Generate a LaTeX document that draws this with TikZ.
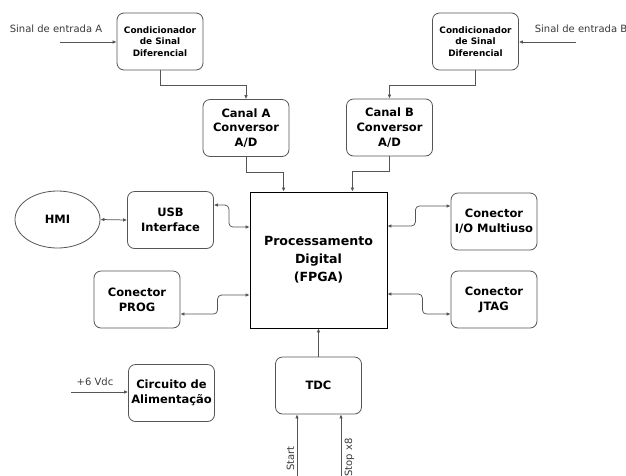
\documentclass[tikz,border=0pt]{standalone}
\usepackage{fontspec}
\setmainfont{DejaVu Sans}
\usetikzlibrary{arrows.meta,shapes.geometric,calc}
\definecolor{edge}{HTML}{555555}
\definecolor{lbl}{HTML}{3A3A3A}
\begin{document}
\begin{tikzpicture}[x=1pt,y=-1pt,
  box/.style={draw=edge,line width=0.8pt,rounded corners=7pt,align=center,inner sep=0pt,
    minimum width=86pt,minimum height=57pt,font=\bfseries\fontsize{11.5}{14.8}\selectfont},
  smallbox/.style={box,font=\bfseries\fontsize{8.9}{11.3}\selectfont},
  arr/.style={draw=edge,line width=0.75pt,-{Latex[length=4pt,width=3.6pt]}},
  barr/.style={draw=edge,line width=0.75pt,{Latex[length=4pt,width=3.6pt]}-{Latex[length=4pt,width=3.6pt]},rounded corners=4pt},
  lab/.style={text=lbl,font=\fontsize{10}{11}\selectfont,inner sep=0pt}]
\useasboundingbox (0,0) rectangle (626,475);
\fill[white] (0,0) rectangle (626,475);

\node[smallbox] (condA) at (160,41.5) {Condicionador\\de Sinal\\Diferencial};
\node[smallbox] (condB) at (475.5,41.5) {Condicionador\\de Sinal\\Diferencial};
\node[box] (canalA) at (246,128) {Canal A\\Conversor\\A/D};
\node[box] (canalB) at (389.5,127.5) {Canal B\\Conversor\\A/D};
\node[draw=black,line width=0.8pt,minimum width=137pt,minimum height=136pt,inner sep=0pt,align=center,
  font=\bfseries\fontsize{12.6}{18}\selectfont] (fpga) at (318.5,260) {Processamento\\Digital\\(FPGA)};
\node[draw=edge,line width=0.8pt,ellipse,minimum width=85pt,minimum height=57pt,inner sep=0pt,
  font=\bfseries\fontsize{11.5}{14.8}\selectfont] (hmi) at (57.5,219.5) {HMI};
\node[box] (usb) at (170.5,220) {USB\\Interface};
\node[box] (prog) at (137,299.5) {Conector\\PROG};
\node[box] (io) at (494,221.5) {Conector\\I/O Multiuso};
\node[box] (jtag) at (494,299.5) {Conector\\JTAG};
\node[box] (alim) at (171.5,393) {Circuito de\\Alimentação};
\node[box] (tdc) at (318.5,385.5) {TDC};

% inputs
\coordinate (inA) at (60,42);
\coordinate (inB) at (576,42);
\coordinate (inV) at (71,392);
\coordinate (inStart) at (297,480);
\coordinate (inStop) at (341,480);
\node[lab] (labA) at (56,29) {Sinal de entrada A};
\node[lab] (labB) at (581,29) {Sinal de entrada B};
\node[lab] (labV) at (95,382) {+6 Vdc};
\node[lab,rotate=90,anchor=east] (labStart) at (290.5,446) {Start};
\node[lab,rotate=90,anchor=east] (labStop) at (349.5,438) {Stop x8};

\draw[arr] (inA) -- (inA -| condA.west);
\draw[arr] (inB) -- (inB -| condB.east);
\draw[arr] (inV) -- (inV -| alim.west);
\draw[arr] (inStart) -- (inStart |- tdc.south);
\draw[arr] (inStop) -- (inStop |- tdc.south);

% cond -> canal
\draw[arr] (condA.south) -- ++(0,15) -| (canalA.north);
\draw[arr] (condB.south) -- ++(0,15) -| (canalB.north);
% canal -> fpga
\coordinate (fA) at ($(fpga.north west)+(34,0)$);
\coordinate (fB) at ($(fpga.north east)+(-35,0)$);
\draw[arr] (canalA.south) -- ++(0,15) -| (fA);
\draw[arr] (canalB.south) -- ++(0,15) -| (fB);
% tdc -> fpga
\draw[arr] (tdc.north) -- (fpga.south);
% hmi <-> usb
\draw[barr] (hmi.east) -- (usb.west);
% usb <-> fpga
\coordinate (u1) at ($(usb.east)+(0,-15)$);
\coordinate (f1) at ($(fpga.west)+(0,-33)$);
\draw[barr] (u1) -- ++(15,0) |- (f1);
% prog <-> fpga
\coordinate (p1) at ($(prog.east)+(0,14.5)$);
\coordinate (f2) at ($(fpga.west)+(0,35)$);
\draw[barr] (f2) -- ++(-32,0) |- (p1);
% io <-> fpga
\coordinate (i1) at ($(io.west)+(0,-15.5)$);
\coordinate (f3) at ($(fpga.east)+(0,-34)$);
\draw[barr] (f3) -- ++(28,0) |- (i1);
% jtag <-> fpga
\coordinate (j1) at ($(jtag.west)+(0,14.5)$);
\coordinate (f4) at ($(fpga.east)+(0,34)$);
\draw[barr] (f4) -- ++(35,0) |- (j1);
\end{tikzpicture}
\end{document}
